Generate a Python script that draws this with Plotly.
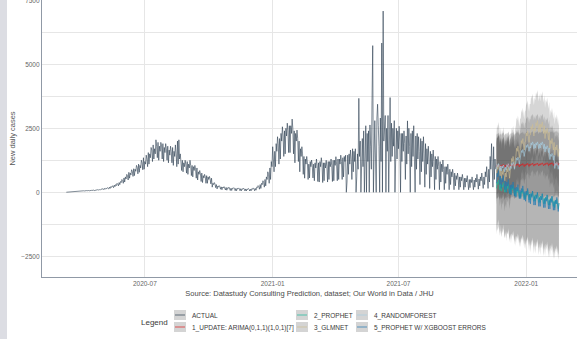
import pandas as pd
import plotly.graph_objects as go

# ---------------- data ----------------
ACTUAL_START = "2020-03-10"
actual_cases = [
    2, 5, 3, 8, 10, 6, 12,
    15, 20, 18, 25, 30, 22, 28,
    30, 35, 40, 38, 45, 42, 50,
    45, 55, 50, 60, 58, 52, 65,
    55, 65, 60, 70, 68, 58, 72,
    60, 75, 70, 80, 85, 65, 78,
    70, 90, 85, 100, 95, 80, 105,
    90, 120, 110, 130, 140, 100, 150,
    120, 160, 140, 180, 170, 130, 200,
    150, 220, 190, 250, 240, 180, 280,
    220, 300, 260, 350, 320, 250, 380,
    300, 420, 380, 500, 460, 350, 560,
    400, 600, 520, 700, 650, 480, 780,
    550, 750, 680, 880, 820, 620, 920,
    650, 900, 820, 1050, 980, 720, 1100,
    780, 1050, 950, 1250, 1150, 880, 1350,
    900, 1200, 1100, 1450, 1300, 1000, 1550,
    1100, 1500, 1350, 1750, 1650, 1200, 1850,
    1300, 1700, 1500, 2050, 1800, 1350, 1950,
    1250, 1800, 1600, 1950, 1850, 1300, 1900,
    1200, 1750, 1550, 1900, 1700, 1250, 1800,
    1150, 1650, 1450, 1800, 1600, 1150, 1750,
    1050, 1600, 1400, 1850, 1500, 1000, 2000,
    1100, 2050, 1300, 1500, 1200, 850, 1250,
    800, 1150, 1000, 1250, 1100, 750, 1200,
    700, 1100, 950, 1250, 1050, 650, 1050,
    600, 1000, 850, 1050, 900, 550, 950,
    480, 800, 700, 850, 720, 420, 750,
    380, 650, 560, 700, 600, 350, 650,
    350, 600, 500, 620, 520, 330, 550,
    200, 350, 300, 380, 320, 180, 300,
    130, 240, 200, 260, 220, 120, 210,
    100, 200, 170, 220, 180, 90, 190,
    80, 170, 150, 200, 160, 70, 160,
    70, 160, 140, 180, 150, 60, 150,
    60, 150, 130, 170, 140, 60, 140,
    60, 140, 120, 160, 130, 55, 130,
    50, 130, 110, 150, 120, 50, 120,
    60, 140, 120, 170, 140, 60, 150,
    80, 200, 180, 260, 220, 120, 300,
    150, 350, 300, 450, 380, 200, 500,
    250, 600, 500, 800, 700, 350, 950,
    500, 1200, 1000, 1780, 1400, 800, 1600,
    1000, 1900, 1600, 2170, 1900, 1100, 2100,
    1300, 2300, 2000, 2560, 2200, 1400, 2400,
    1500, 2500, 2200, 2700, 2400, 1550, 2600,
    1550, 2600, 2300, 2860, 2500, 1500, 2400,
    1150, 2300, 2000, 2430, 2100, 1200, 2000,
    800, 1700, 1400, 1780, 1500, 700, 1400,
    550, 1300, 1100, 1400, 1150, 500, 1100,
    560, 1200, 1000, 1260, 1050, 560, 1100,
    450, 1150, 950, 1300, 1050, 420, 1150,
    400, 1200, 1000, 1350, 1100, 380, 1150,
    450, 1150, 950, 1250, 1000, 400, 1200,
    500, 1200, 1000, 1300, 1050, 420, 1250,
    450, 1250, 1050, 1390, 1100, 450, 1300,
    500, 1300, 1100, 1450, 1200, 500, 1350,
    600, 1400, 1200, 1450, 0, 400, 1450,
    700, 1500, 1100, 1650, 1300, 500, 1700,
    800, 1600, 1200, 1700, 0, 600, 1500,
    900, 3670, 1400, 2000, 0, 1200, 2100,
    1000, 2400, 0, 2200, 2600, 0, 2300,
    1200, 2400, 0, 2630, 1800, 900, 3600,
    5730, 0, 2500, 2800, 1300, 0, 2900,
    3440, 2600, 1800, 0, 2900, 1200, 5830,
    0, 7080, 2000, 2500, 3000, 0, 2500,
    1600, 3000, 0, 2400, 3700, 1200, 2700,
    1400, 2500, 1800, 2800, 0, 1300, 2500,
    1300, 2400, 1700, 2580, 2000, 0, 2300,
    1200, 2300, 1600, 2400, 1900, 500, 2200,
    1100, 2790, 1500, 2500, 1800, 0, 2300,
    1000, 2400, 1400, 2600, 1700, 0, 2200,
    900, 2300, 1300, 2170, 1600, 300, 2100,
    800, 2000, 1200, 2170, 1500, 200, 1900,
    700, 1700, 1100, 1800, 1300, 150, 1600,
    600, 1500, 1000, 1650, 1200, 100, 1400,
    500, 1300, 900, 1400, 1000, 100, 1200,
    400, 1100, 800, 1260, 900, 100, 1000,
    350, 1000, 700, 1100, 800, 100, 900,
    300, 800, 600, 900, 650, 100, 750,
    250, 650, 500, 750, 550, 100, 600,
    200, 600, 450, 700, 500, 100, 550,
    200, 550, 400, 650, 450, 100, 500,
    180, 500, 380, 600, 420, 100, 480,
    200, 550, 400, 700, 450, 120, 520,
    250, 600, 450, 750, 500, 150, 600,
    300, 800, 600, 1000, 700, 150, 900,
    400, 1400, 900, 1900, 1100, 200, 1780,
    500, 1300, 900,
]

FORECAST_START = "2021-11-19"
arima_fc = [
    980, 1060, 1020, 1090, 1040, 950, 1050,
    990, 1070, 1030, 1100, 1050, 960, 1060,
    1000, 1080, 1040, 1110, 1060, 970, 1070,
    1010, 1090, 1050, 1115, 1065, 980, 1075,
    1020, 1095, 1055, 1120, 1070, 990, 1080,
    1030, 1100, 1060, 1125, 1080, 1000, 1090,
    1040, 1110, 1070, 1135, 1090, 1010, 1100,
    1050, 1115, 1080, 1140, 1095, 1020, 1105,
    1055, 1120, 1085, 1145, 1100, 1030, 1110,
    1060, 1125, 1090, 1150, 1105, 1035, 1115,
    1065, 1130, 1095, 1155, 1110, 1040, 1120,
    1070, 1135, 1100, 1160, 1115, 1045, 1125,
    1075, 1140, 1105, 1165, 1120, 1050, 1130,
]
prophet_fc = [
    150, 400, 300, 480, 330, 100, 320,
    50, 300, 200, 380, 230, 0, 220,
    0, 250, 150, 330, 180, -50, 170,
    -50, 200, 100, 280, 130, -100, 120,
    -150, 100, 0, 180, 30, -200, 20,
    -200, 50, -50, 130, -20, -250, -30,
    -250, 0, -100, 80, -70, -300, -80,
    -300, -50, -150, 30, -120, -350, -130,
    -350, -100, -200, -20, -170, -400, -180,
    -400, -150, -250, -70, -220, -450, -230,
    -450, -200, -300, -120, -270, -500, -280,
    -500, -250, -350, -170, -320, -550, -330,
    -600, -350, -450, -270, -420, -650, -430,
]
glmnet_fc = [
    700, 1020, 900, 1100, 950, 650, 950,
    500, 820, 700, 900, 750, 450, 750,
    600, 920, 800, 1000, 850, 550, 850,
    1000, 1320, 1200, 1400, 1250, 950, 1250,
    1400, 1720, 1600, 1800, 1650, 1350, 1650,
    1700, 2020, 1900, 2100, 1950, 1650, 1950,
    2000, 2320, 2200, 2400, 2250, 1950, 2250,
    2250, 2570, 2450, 2650, 2500, 2200, 2500,
    2400, 2720, 2600, 2800, 2650, 2350, 2650,
    2350, 2670, 2550, 2750, 2600, 2300, 2600,
    2100, 2420, 2300, 2500, 2350, 2050, 2350,
    1700, 2020, 1900, 2100, 1950, 1650, 1950,
    1450, 1770, 1650, 1850, 1700, 1400, 1700,
]
randomforest_fc = [
    880, 1080, 1000, 1120, 1040, 850, 1030,
    830, 1030, 950, 1070, 990, 800, 980,
    880, 1080, 1000, 1120, 1040, 850, 1030,
    930, 1130, 1050, 1170, 1090, 900, 1080,
    1130, 1330, 1250, 1370, 1290, 1100, 1280,
    1430, 1630, 1550, 1670, 1590, 1400, 1580,
    1630, 1830, 1750, 1870, 1790, 1600, 1780,
    1730, 1930, 1850, 1970, 1890, 1700, 1880,
    1730, 1930, 1850, 1970, 1890, 1700, 1880,
    1730, 1930, 1850, 1970, 1890, 1700, 1880,
    1580, 1780, 1700, 1820, 1740, 1550, 1730,
    1280, 1480, 1400, 1520, 1440, 1250, 1430,
    930, 1130, 1050, 1170, 1090, 900, 1080,
]
xgboost_fc = [
    350, 750, 600, 850, 650, 300, 630,
    150, 550, 400, 650, 450, 100, 430,
    0, 400, 250, 500, 300, -50, 280,
    -100, 300, 150, 400, 200, -150, 180,
    -200, 200, 50, 300, 100, -250, 80,
    -250, 150, 0, 250, 50, -300, 30,
    -350, 50, -100, 150, -50, -400, -70,
    -450, -50, -200, 50, -150, -500, -170,
    -500, -100, -250, 0, -200, -550, -220,
    -550, -150, -300, -50, -250, -600, -270,
    -600, -200, -350, -100, -300, -650, -320,
    -650, -250, -400, -150, -350, -700, -370,
    -700, -300, -450, -200, -400, -750, -420,
]

model_names = [
    "1_UPDATE: ARIMA(0,1,1)(1,0,1)[7]",
    "2_PROPHET",
    "3_GLMNET",
    "4_RANDOMFOREST",
    "5_PROPHET W/ XGBOOST ERRORS",
]
model_values = [arima_fc, prophet_fc, glmnet_fc, randomforest_fc, xgboost_fc]
# 95% conf-interval half widths (calibrated), read from the ribbons
conf_half_width = [1250, 1800, 1200, 1100, 1900]

# ---------------- style ----------------
ACTUAL_COLOR = "#2c3e50"
model_colors = ["#e31a1c", "#18BC9C", "#CCBE93", "#a6cee3", "#1f78b4"]
RIBBON_FILL = "rgba(51,51,51,0.2)"
FONT = "Liberation Sans, Arial, sans-serif"

W, H = 577, 339
ML, MR, MT, MB = 42, 0, 0, 62
PW, PH = W - ML - MR, H - MT - MB


def px_x(px):
    return (px - ML) / PW


def px_y(py):
    return (H - MB - py) / PH


dates_actual = pd.date_range(ACTUAL_START, periods=len(actual_cases), freq="D")
dates_fc = pd.date_range(FORECAST_START, periods=len(arima_fc), freq="D")

fig = go.Figure()

# ribbons
for vals, hw in zip(model_values, conf_half_width):
    lo = [v - hw for v in vals]
    hi = [v + hw for v in vals]
    fig.add_trace(go.Scatter(x=dates_fc, y=lo, mode="lines", line=dict(width=0),
                             showlegend=False, hoverinfo="skip"))
    fig.add_trace(go.Scatter(x=dates_fc, y=hi, mode="lines", line=dict(width=0),
                             fill="tonexty", fillcolor=RIBBON_FILL,
                             showlegend=False, hoverinfo="skip"))

# actual
fig.add_trace(go.Scatter(x=dates_actual, y=actual_cases, mode="lines", name="ACTUAL",
                         line=dict(color=ACTUAL_COLOR, width=0.6),
                         showlegend=False))

# forecasts
for name, vals, col in zip(model_names, model_values, model_colors):
    fig.add_trace(go.Scatter(x=dates_fc, y=vals, mode="lines", name=name,
                             line=dict(color=col, width=0.6), showlegend=False))

shapes = []
annotations = []

# left grey strip of the screenshot
shapes.append(dict(type="rect", xref="paper", yref="paper",
                   x0=px_x(0), x1=px_x(7), y0=px_y(H + 5), y1=px_y(-5),
                   fillcolor="#dcdde3", line=dict(width=0), layer="above"))

# manual legend (3 columns x 2 rows)
legend_items = [("ACTUAL", ACTUAL_COLOR)] + list(zip(model_names, model_colors))
col_x = [174, 296, 356]
row_y = [315, 327]
for i, (lab, col) in enumerate(legend_items):
    cx = col_x[i // 2]
    cy = row_y[i % 2]
    shapes.append(dict(type="rect", xref="paper", yref="paper",
                       x0=px_x(cx), x1=px_x(cx + 12), y0=px_y(cy + 5), y1=px_y(cy - 5),
                       fillcolor="#d4d4d4", line=dict(width=0)))
    shapes.append(dict(type="line", xref="paper", yref="paper",
                       x0=px_x(cx + 1), x1=px_x(cx + 11), y0=px_y(cy), y1=px_y(cy),
                       line=dict(color=col, width=1), opacity=0.7))
    annotations.append(dict(xref="paper", yref="paper", x=px_x(cx + 16), y=px_y(cy + 0.5),
                            text=lab, showarrow=False, xanchor="left", yanchor="middle",
                            font=dict(family=FONT, size=6.5, color="#3a3a3a")))
annotations.append(dict(xref="paper", yref="paper", x=px_x(170), y=px_y(322.5),
                        text="Legend", showarrow=False, xanchor="right", yanchor="middle",
                        font=dict(family=FONT, size=8, color="#3a3a3a")))

fig.update_layout(
    template="none",
    width=W, height=H,
    margin=dict(l=ML, r=MR, t=MT, b=MB, autoexpand=False),
    plot_bgcolor="white", paper_bgcolor="white",
    font=dict(family=FONT, color="#555555"),
    shapes=shapes, annotations=annotations,
    showlegend=False, hovermode=False,
)
fig.update_xaxes(
    type="date", range=["2020-02-04", "2022-03-15"],
    dtick="M6", tick0="2020-01-01", tickformat="%Y-%m",
    showgrid=True, gridcolor="#e6e6e6", gridwidth=1,
    showline=True, linecolor="#9099a6", linewidth=1.2,
    ticks="", tickfont=dict(size=6.5, color="#666666"),
    zeroline=False,
    title=dict(text="Source: Datastudy Consulting Prediction, dataset; Our World in Data / JHU",
               font=dict(size=7.5, color="#4a4a4a"), standoff=4),
)
fig.update_yaxes(
    range=[-3310, 7512], dtick=2500, tick0=0,
    showgrid=True, gridcolor="#e6e6e6", gridwidth=1,
    minor=dict(dtick=1250, tick0=0, showgrid=True, gridcolor="#e6e6e6", gridwidth=1),
    showline=True, linecolor="#9099a6", linewidth=1.2,
    ticks="", tickfont=dict(size=6.5, color="#666666"),
    ticklabeloverflow="allow",
    zeroline=False,
    title=dict(text="New daily cases", font=dict(size=7.5, color="#555555"), standoff=4),
)

# remove the browser's default 8px page margin so the figure sits at (0, 0)
fig.write_html("out.html", config={"displayModeBar": False},
               post_script="document.body.style.margin='0px';")
